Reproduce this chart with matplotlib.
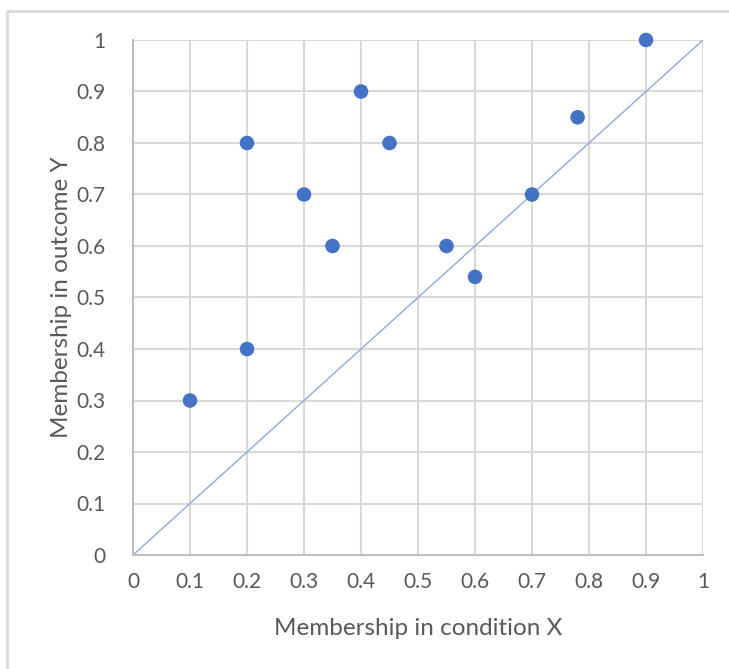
import matplotlib.pyplot as plt
from matplotlib.lines import Line2D

x = [0.1, 0.2, 0.2, 0.3, 0.35, 0.4, 0.45, 0.55, 0.6, 0.7, 0.78, 0.9]
y = [0.3, 0.4, 0.8, 0.7, 0.6, 0.9, 0.8, 0.6, 0.54, 0.7, 0.85, 1.0]
diag = [0, 1]
ticks = [0, 0.1, 0.2, 0.3, 0.4, 0.5, 0.6, 0.7, 0.8, 0.9, 1]
tick_labels = ["0", "0.1", "0.2", "0.3", "0.4", "0.5", "0.6", "0.7", "0.8", "0.9", "1"]

plt.rcParams['font.family'] = ['Lato', 'DejaVu Sans']
fig = plt.figure(figsize=(7.29, 6.69), dpi=100)
ax = fig.add_axes([133/729, 1-555/669, 570/729, 515/669])

ax.plot(diag, diag, color="#8EA9DB", lw=1, zorder=2)
ax.scatter(x, y, s=110, color="#4472C4", edgecolors="none", zorder=3, clip_on=False)

ax.set_xlim(0, 1)
ax.set_ylim(0, 1)
ax.set_xticks(ticks)
ax.set_xticklabels(tick_labels)
ax.set_yticks(ticks)
ax.set_yticklabels(tick_labels)
ax.grid(True, color="#D9D9D9", lw=1.5)
ax.set_axisbelow(True)
ax.tick_params(axis="x", length=0, labelsize=15, labelcolor="#595959", pad=12)
ax.tick_params(axis="y", length=0, labelsize=15, labelcolor="#595959", pad=20)
for s in ["top", "right"]:
    ax.spines[s].set_visible(False)
for s in ["left", "bottom"]:
    ax.spines[s].set_color("#BFBFBF")
    ax.spines[s].set_linewidth(1.5)

ax.set_xlabel("Membership in condition X", fontsize=17.5, color="#595959", labelpad=19)
ax.set_ylabel("Membership in outcome Y", fontsize=17.5, color="#595959", labelpad=3)

# chart border (top and left edges visible)
fig.add_artist(Line2D([7/729, 7/729, 1], [0, 1-11/669, 1-11/669],
                      transform=fig.transFigure, color="#D9D9D9", lw=2))

fig.savefig("out.png", dpi=100)
